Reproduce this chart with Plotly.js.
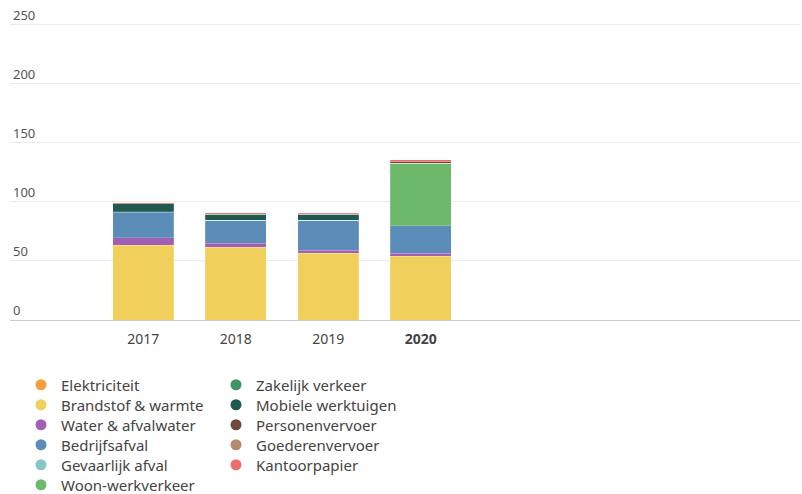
<!DOCTYPE html>
<html><head><meta charset="utf-8">
<script src="https://cdn.plot.ly/plotly-3.0.1.min.js"></script>
<style>html,body{margin:0;padding:0;background:#fff}#chart{width:802px;height:494px}</style>
</head><body><div id="chart"></div>
<script>
const years = ["2017", "2018", "2019", "2020"];
const yearLabels = ["2017", "2018", "2019", "<b>2020</b>"];
const seriesNames = ["Elektriciteit", "Brandstof & warmte", "Water & afvalwater", "Bedrijfsafval", "Gevaarlijk afval", "Woon-werkverkeer", "Zakelijk verkeer", "Mobiele werktuigen", "Personenvervoer", "Goederenvervoer", "Kantoorpapier"];
const elektriciteit = [0, 0, 0, 0];
const brandstofWarmte = [63.3, 61.4, 56.3, 54.0];
const waterAfvalwater = [6.2, 3.4, 2.8, 2.3];
const bedrijfsafval = [21.5, 19.1, 24.7, 23.4];
const gevaarlijkAfval = [0.3, 0.5, 0.5, 0];
const woonWerkverkeer = [0, 0, 0, 52.6];
const zakelijkVerkeer = [0, 0, 0, 0];
const mobieleWerktuigen = [6.7, 5.0, 5.0, 0];
const personenvervoer = [0, 0, 0, 1.2];
const goederenvervoer = [0, 0, 0, 0];
const kantoorpapier = [1.0, 1.0, 1.0, 1.8];
const yTicks = [0, 50, 100, 150, 200, 250];

const seriesValues = [elektriciteit, brandstofWarmte, waterAfvalwater, bedrijfsafval, gevaarlijkAfval, woonWerkverkeer, zakelijkVerkeer, mobieleWerktuigen, personenvervoer, goederenvervoer, kantoorpapier];
const colors = ["#f5a03a", "#f0d05a", "#a15fb6", "#5c8db8", "#88c6c3", "#6cb96c", "#3f9461", "#1f5a4c", "#6e4a3f", "#b58a6f", "#e9706c"];

// legend layout: 6 rows, 2 columns (column-major order as in the reference)
const legendRows = [[0, 6], [1, 7], [2, 8], [3, 9], [4, 10], [5]];
const legendKeys = ["legend", "legend2", "legend3", "legend4", "legend5", "legend6"];

const font = "Noto Sans, Open Sans, sans-serif";
const traces = [];
seriesNames.forEach((name, i) => {
  traces.push({
    type: "bar", x: years, y: seriesValues[i], name: name,
    marker: {color: colors[i], line: {color: "rgba(255,255,255,0.35)", width: 0.5}},
    width: 0.66, showlegend: false, hoverinfo: "x+y+name"
  });
});
legendRows.forEach((row, r) => {
  row.forEach(i => {
    traces.push({
      type: "scatter", mode: "markers", x: [null], y: [null], name: seriesNames[i],
      marker: {color: colors[i], size: 11, symbol: "circle"},
      legend: legendKeys[r], showlegend: true, hoverinfo: "skip"
    });
  });
});

const layout = {
  width: 802, height: 494,
  margin: {l: 10, r: 2, t: 7, b: 174, autoexpand: false},
  paper_bgcolor: "#fff", plot_bgcolor: "#fff",
  barmode: "stack",
  font: {family: font},
  xaxis: {
    type: "category", range: [-1.44, 7.1], tickvals: years, ticktext: yearLabels,
    ticks: "", ticklabelstandoff: 6, showgrid: false, zeroline: false, automargin: false,
    showline: true, linecolor: "#cccccc", linewidth: 1,
    tickfont: {family: font, size: 14, color: "#444"}, fixedrange: true
  },
  yaxis: {
    range: [0, 264.4], tickvals: yTicks, ticktext: yTicks.map(String),
    ticklabelposition: "inside top", ticklabeloverflow: "allow", ticks: "", automargin: false,
    showgrid: true, gridcolor: "#ebebeb", gridwidth: 1, zeroline: false, showline: false,
    tickfont: {family: font, size: 13, color: "#555"}, fixedrange: true
  },
  showlegend: true
};
legendKeys.forEach((k, r) => {
  layout[k] = {
    orientation: "h", xref: "container", yref: "container",
    x: 21 / 802, y: 1 - (385 + r * 20) / 494, xanchor: "left", yanchor: "middle",
    font: {family: font, size: 15, color: "#444"}, bgcolor: "rgba(0,0,0,0)",
    itemwidth: 30, entrywidth: 150, entrywidthmode: "pixels", traceorder: "normal"
  };
});

Plotly.newPlot("chart", traces, layout, {displayModeBar: false, staticPlot: true});
</script></body></html>
